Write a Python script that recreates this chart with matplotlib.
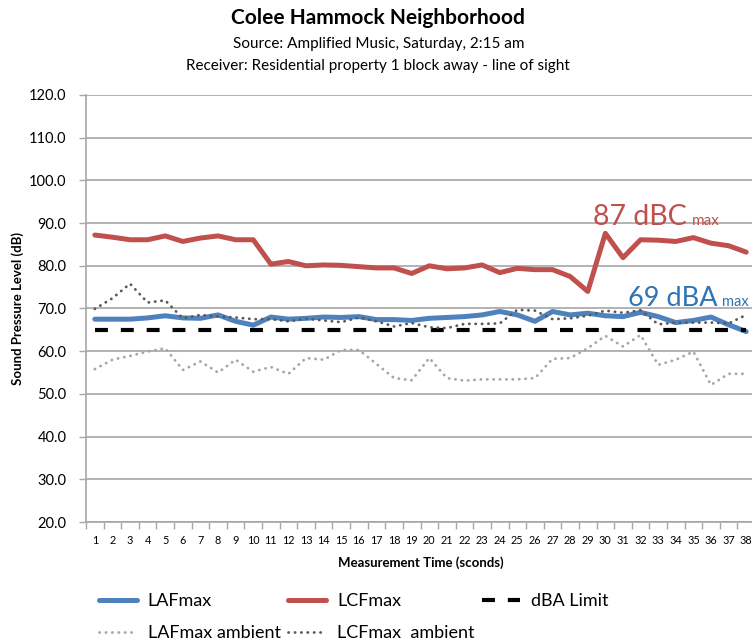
import matplotlib
matplotlib.use("Agg")
import matplotlib.pyplot as plt
import numpy as np

plt.rcParams['font.family'] = ['Lato', 'DejaVu Sans']

seconds = list(range(1, 39))

laf_max = [67.5, 67.5, 67.5, 67.8, 68.3, 67.8, 67.7, 68.5, 67.0, 66.1,
           68.0, 67.5, 67.7, 68.0, 67.9, 68.1, 67.4, 67.4, 67.2, 67.7,
           67.9, 68.1, 68.5, 69.3, 68.5, 67.0, 69.3, 68.5, 68.9, 68.3,
           68.1, 69.1, 68.1, 66.7, 67.2, 68.0, 66.2, 64.6]

lcf_max = [87.2, 86.7, 86.1, 86.1, 87.0, 85.7, 86.5, 87.0, 86.1, 86.1,
           80.4, 81.0, 80.0, 80.2, 80.1, 79.8, 79.5, 79.5, 78.2, 80.0,
           79.3, 79.5, 80.2, 78.4, 79.4, 79.1, 79.1, 77.5, 74.0, 87.6,
           81.9, 86.1, 86.0, 85.7, 86.6, 85.3, 84.7, 83.2]

dba_limit = [65.0] * 38

laf_ambient = [55.8, 58.0, 58.9, 59.9, 60.7, 55.6, 57.6, 55.0, 58.0, 55.2,
               56.3, 54.7, 58.4, 58.0, 60.3, 60.3, 57.0, 53.7, 53.2, 58.4,
               53.7, 53.1, 53.4, 53.4, 53.4, 53.7, 58.2, 58.4, 60.7, 63.6,
               61.1, 63.8, 56.8, 58.0, 59.9, 52.1, 54.7, 54.7]

lcf_ambient = [69.9, 72.4, 75.8, 71.4, 71.9, 67.7, 68.5, 68.1, 67.9, 67.5,
               67.5, 67.0, 67.6, 67.2, 66.8, 67.9, 67.0, 65.8, 66.6, 65.6,
               65.4, 66.4, 66.4, 66.5, 69.7, 69.5, 67.5, 67.7, 68.3, 69.5,
               69.0, 69.6, 66.3, 66.7, 66.7, 66.7, 66.5, 68.5]

y_ticks = np.arange(20, 121, 10)

fig = plt.figure(figsize=(7.52, 6.43), dpi=100)
ax = fig.add_axes([86 / 752, 121 / 643, 669 / 752, 427 / 643])

l1, = ax.plot(seconds, laf_max, color="#4F81BD", lw=3.6, label="LAFmax", solid_capstyle="round", zorder=3)
l2, = ax.plot(seconds, lcf_max, color="#C0504D", lw=3.6, label="LCFmax", solid_capstyle="round", zorder=3)
l3, = ax.plot(seconds, dba_limit, color="black", lw=3, linestyle=(0, (3.1, 3.1)), label="dBA Limit", zorder=4)
l4, = ax.plot(seconds, laf_ambient, color="#A6A6A6", lw=2, linestyle=(0, (0.1, 2.2)),
              dash_capstyle="round", label="LAFmax ambient", zorder=5)
l5, = ax.plot(seconds, lcf_ambient, color="#595959", lw=2, linestyle=(0, (0.1, 2.2)),
              dash_capstyle="round", label="LCFmax  ambient", zorder=5)

ax.set_xlim(0.5, 38.5)
ax.set_ylim(20, 120)
ax.set_yticks(y_ticks)
ax.set_yticklabels(["%.1f" % v for v in y_ticks], fontsize=10.5)
ax.set_xticks(seconds)
ax.set_xticklabels([str(s) for s in seconds], fontsize=7.8)
ax.set_xticks(np.arange(0.5, 39, 1), minor=True)
ax.tick_params(axis="x", which="major", length=0, pad=9)
ax.tick_params(axis="x", which="minor", length=5, color="#A6A6A6", width=1)
ax.tick_params(axis="y", length=5, color="#A6A6A6", width=1, pad=9)
ax.grid(axis="y", color="#A6A6A6", lw=1.2)
ax.set_axisbelow(True)
for side in ["top", "right"]:
    ax.spines[side].set_visible(False)
for side in ["left", "bottom"]:
    ax.spines[side].set_color("#A6A6A6")
    ax.spines[side].set_linewidth(1.2)

ax.set_ylabel("Sound Pressure Level (dB)", fontsize=9.5, fontweight="bold")
ax.yaxis.set_label_coords(-0.093, 0.5)
ax.set_xlabel("Measurement Time (sconds)", fontsize=9.5, fontweight="bold", labelpad=8)

fig.text(0.503, 0.972, "Colee Hammock Neighborhood", ha="center", va="center", fontsize=15, fontweight="bold")
fig.text(0.503, 0.932, "Source: Amplified Music, Saturday, 2:15 am", ha="center", va="center", fontsize=11)
fig.text(0.503, 0.898, "Receiver: Residential property 1 block away - line of sight", ha="center", va="center", fontsize=11)

# annotations
ax.text(29.3, 89.5, "87 dBC", color="#C0504D", fontsize=20.5, va="baseline")
ax.text(34.9, 89.5, "max", color="#C0504D", fontsize=11, va="baseline")
ax.text(31.3, 70.6, "69 dBA", color="#2E75B6", fontsize=19.5, va="baseline")
ax.text(36.6, 70.6, "max", color="#2E75B6", fontsize=10.5, va="baseline")

handles = [l1, l4, l2, l5, l3]
fig.legend(handles=handles, labels=[h.get_label() for h in handles], ncol=3,
           loc="upper left", bbox_to_anchor=(0.115, 0.097), frameon=False,
           fontsize=13, handlelength=2.1, handletextpad=0.6, columnspacing=0.42,
           labelspacing=0.88, borderpad=0.2)

fig.savefig("out.png", dpi=100)
